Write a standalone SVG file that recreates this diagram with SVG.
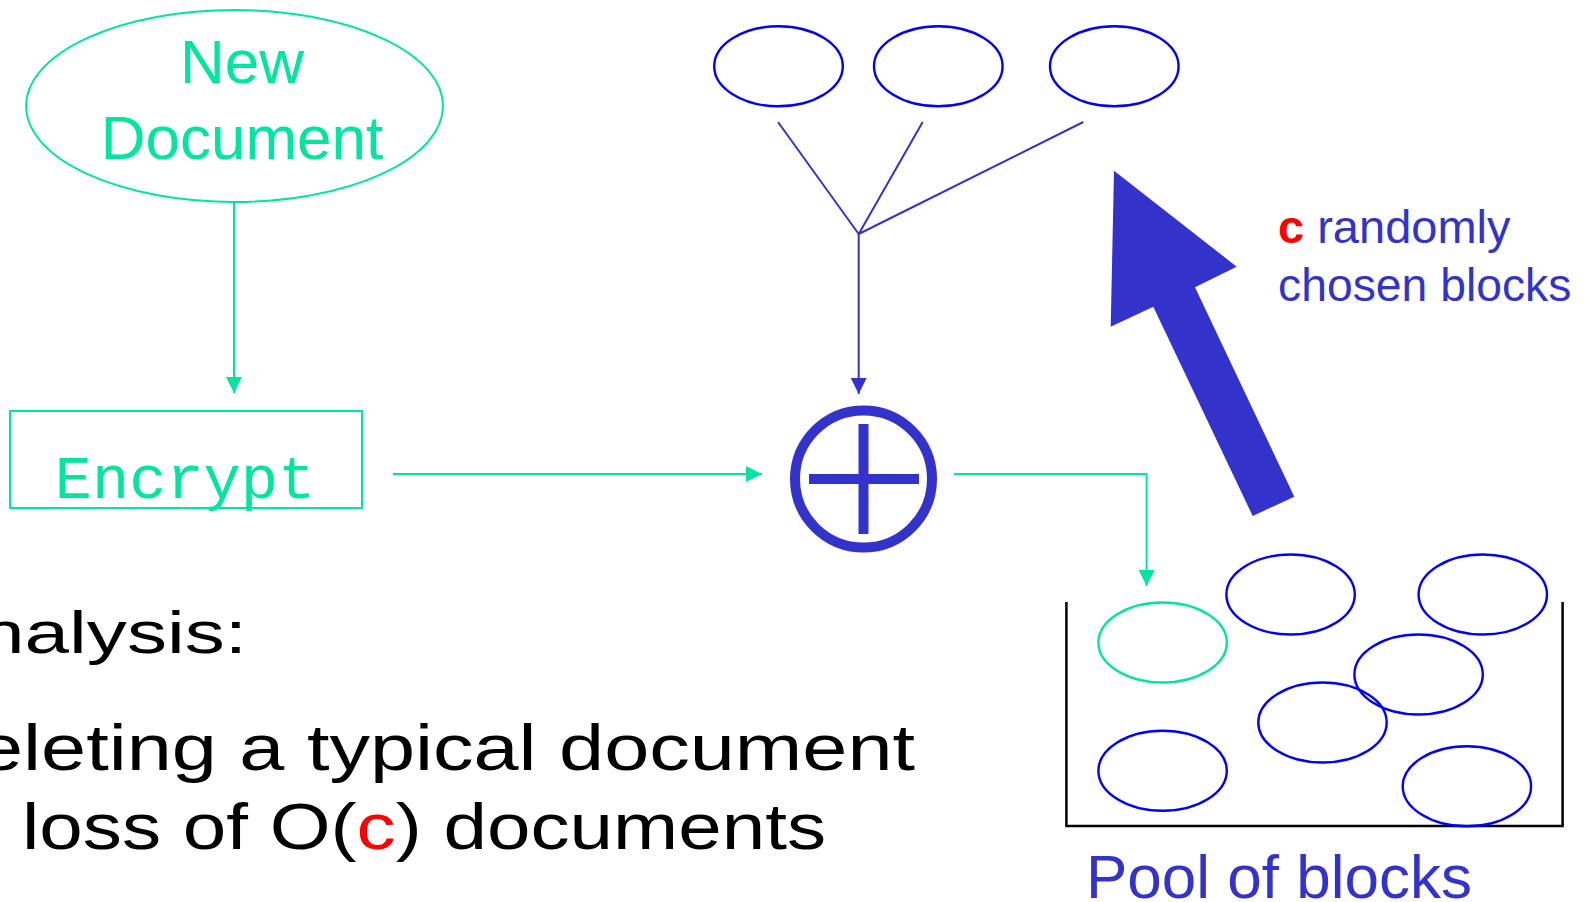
<svg xmlns="http://www.w3.org/2000/svg" width="1585" height="902" viewBox="0 0 1585 902">
<defs>
<style>
.g{stroke:#00E6A0;fill:none;stroke-width:2}
.b{stroke:#3333CC;fill:none;stroke-width:2}
.blk{stroke:#0000FF;fill:none;stroke-width:2.4}
.gblk{stroke:#00E6A0;fill:none;stroke-width:2.4}
.sans{font-family:"Liberation Sans",Arial,sans-serif}
.mono{font-family:"Liberation Mono","Courier New",monospace}
.tg{fill:#00E6A0}
.tb{fill:#3333CC}
.tk{fill:#000000}
.tr{fill:#FF0000}
</style>
<marker id="ag" viewBox="0 0 16 16" markerWidth="16" markerHeight="16" refX="16" refY="8" orient="auto" markerUnits="userSpaceOnUse"><path d="M0,0 L16,8 L0,16 z" fill="#00E6A0"/></marker>
<marker id="ab" viewBox="0 0 16 16" markerWidth="16" markerHeight="16" refX="16" refY="8" orient="auto" markerUnits="userSpaceOnUse"><path d="M0,0 L16,8 L0,16 z" fill="#3333CC"/></marker>
</defs>
<rect width="1585" height="902" fill="#FFFFFF"/>

<g id="new-document">
<ellipse class="g" cx="234.5" cy="106" rx="208.5" ry="96"/>
<text class="sans tg" x="242" y="83" font-size="62" text-anchor="middle">New</text>
<text class="sans tg" x="242" y="159" font-size="62" text-anchor="middle">Document</text>
</g>

<g id="encrypt">
<rect class="g" x="10" y="411" width="352" height="97"/>
<text class="mono tg" x="185" y="498" font-size="62" text-anchor="middle">Encrypt</text>
</g>

<g id="xor">
<circle cx="863.5" cy="479" r="68.5" fill="none" stroke="#3333CC" stroke-width="10"/>
<rect x="858.5" y="424" width="10" height="110" fill="#3333CC"/>
<rect x="809" y="474" width="110" height="10" fill="#3333CC"/>
</g>

<g id="chosen-blocks">
<ellipse class="blk" cx="778.5" cy="66.3" rx="64.3" ry="40"/>
<ellipse class="blk" cx="938.3" cy="66.3" rx="64.3" ry="40"/>
<ellipse class="blk" cx="1114.3" cy="66.3" rx="64.3" ry="40"/>
</g>

<g id="big-arrow">
<polygon points="1114,170.7 1236.7,266.7 1195,287.3 1294.3,496.7 1252.7,516 1153.3,306.7 1110.7,326.7" fill="#3333CC"/>
</g>

<g id="label-random">
<text class="sans tb" x="1278" y="243" font-size="47"><tspan class="tr" font-weight="bold">c</tspan> randomly</text>
<text class="sans tb" x="1278" y="301" font-size="46.3">chosen blocks</text>
</g>

<g id="pool">
<path d="M1066.4,602 L1066.4,826 L1562.6,826 L1562.6,602" fill="none" stroke="#000000" stroke-width="2.5"/>
<ellipse class="gblk" cx="1162.6" cy="642.5" rx="64.2" ry="40"/>
<ellipse class="blk" cx="1290.6" cy="594.5" rx="64.2" ry="40"/>
<ellipse class="blk" cx="1482.8" cy="594.5" rx="64.2" ry="40"/>
<ellipse class="blk" cx="1418.6" cy="674.5" rx="64.2" ry="40"/>
<ellipse class="blk" cx="1322.5" cy="722.5" rx="64.2" ry="40"/>
<ellipse class="blk" cx="1162.6" cy="770.7" rx="64.2" ry="40"/>
<ellipse class="blk" cx="1466.9" cy="786.3" rx="64.2" ry="40"/>
<text class="sans tb" x="1086" y="898" font-size="62">Pool of blocks</text>
</g>

<g id="analysis">
<text class="sans tk" x="-20" y="653" font-size="60" textLength="267" lengthAdjust="spacingAndGlyphs">nalysis:</text>
<text class="sans tk" x="-22" y="770" font-size="64" textLength="937" lengthAdjust="spacingAndGlyphs">eleting a typical document</text>
<text class="sans tk" x="22" y="849" font-size="64" textLength="804" lengthAdjust="spacingAndGlyphs">loss of O(<tspan class="tr">c</tspan>) documents</text>
</g>

<g id="connectors">
<path class="g" d="M234,202 L234,393" marker-end="url(#ag)"/>
<path class="g" d="M393,474 L762,474" marker-end="url(#ag)"/>
<path class="b" d="M778,122 L858.7,234 M922.7,122 L858.7,234 M1083.3,122 L858.7,234"/>
<path class="b" d="M858.7,234 L858.7,394" marker-end="url(#ab)"/>
<path class="g" d="M954,474 L1146.6,474 L1146.6,586" marker-end="url(#ag)"/>
</g>
</svg>
